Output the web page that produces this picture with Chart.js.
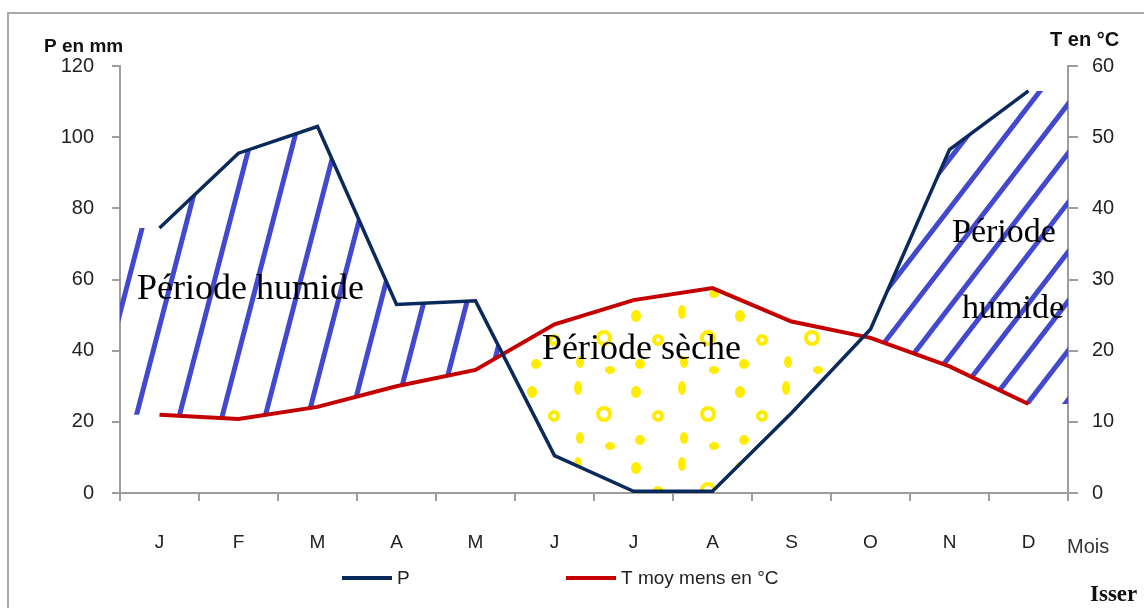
<!DOCTYPE html>
<html><head><meta charset="utf-8">
<script src="https://cdn.jsdelivr.net/npm/chart.js@4.4.1/dist/chart.umd.min.js"></script>
<style>html,body{margin:0;padding:0;background:#fff;}#wrap{width:1144px;height:608px;}</style>
</head><body><div id="wrap"><canvas id="c" width="1144" height="608"></canvas></div>
<script>
const months = ['J','F','M','A','M','J','J','A','S','O','N','D'];
const precipitation = [74.5, 95.5, 103, 53, 54, 10.5, 0.5, 0.5, 22.5, 46, 96.5, 113];
const temperature = [11, 10.4, 12.1, 15, 17.3, 23.7, 27.1, 28.8, 24.1, 21.8, 17.8, 12.5];
const pTicks = [0, 20, 40, 60, 80, 100, 120];
const tTicks = [0, 10, 20, 30, 40, 50, 60];
const seriesNames = ['P', 'T moy mens en °C'];
const seriesColors = ['#0b2a5c', '#c40000'];

const AXIS = '#9d9d9d';
const SANS = "'Liberation Sans', Arial, sans-serif";
const SERIF = "'Liberation Serif', 'Times New Roman', serif";

function regionPath(ctx, a, pts, edgeY) {
  ctx.moveTo(a.left, edgeY);
  ctx.lineTo(a.left, pts[0].y);
  pts.forEach(p => ctx.lineTo(p.x, p.y));
  ctx.lineTo(a.right, pts[pts.length - 1].y);
  ctx.lineTo(a.right, edgeY);
  ctx.closePath();
}
function hatch(ctx, a, ax, ay, k, gap) {
  ctx.beginPath();
  const start = ax - Math.ceil((ax - a.left + k * a.height + gap) / gap) * gap;
  for (let x = start; x < a.right + k * a.height + gap; x += gap) {
    const xb = x + k * (ay - a.bottom), xt = x + k * (ay - a.top);
    ctx.moveTo(xb, a.bottom); ctx.lineTo(xt, a.top);
  }
  ctx.stroke();
}
function dotPattern(ctx) {
  const c = document.createElement('canvas');
  c.width = 104; c.height = 76;
  const g = c.getContext('2d');
  g.fillStyle = '#ffec00'; g.strokeStyle = '#ffec00';
  const dots = [[12,12,5,6,0],[58,8,4,7,0],[34,36,4,4,1],[84,34,6,6,1],[16,60,5,5,0],[60,58,4,6,0],[90,66,5,4,0]];
  dots.forEach(d => {
    g.beginPath(); g.ellipse(d[0], d[1], d[2], d[3], 0, 0, Math.PI * 2);
    if (d[4]) { g.lineWidth = 4; g.stroke(); } else g.fill();
  });
  return ctx.createPattern(c, 'repeat');
}

const zonesPlugin = {
  id: 'zones',
  beforeDatasetsDraw(chart) {
    const ctx = chart.ctx, a = chart.chartArea;
    const P = chart.getDatasetMeta(0).data, T = chart.getDatasetMeta(1).data;
    let first = -1, last = -1;
    for (let i = 0; i < P.length; i++) if (P[i].y > T[i].y) { if (first < 0) first = i; last = i; }
    const splitX = first >= 0 ? (P[first].x + P[last].x) / 2 : a.right;
    ctx.save();
    ctx.beginPath(); regionPath(ctx, a, P, a.bottom); ctx.clip();
    ctx.beginPath(); regionPath(ctx, a, T, a.top); ctx.clip();
    ctx.strokeStyle = '#4349cf'; ctx.lineWidth = 5; ctx.lineCap = 'round';
    ctx.save(); ctx.beginPath(); ctx.rect(a.left, a.top, splitX - a.left, a.height); ctx.clip();
    hatch(ctx, a, a.left + 102, a.bottom - 76, 0.26, 43);
    ctx.restore();
    ctx.save(); ctx.beginPath(); ctx.rect(splitX, a.top, a.right - splitX, a.height); ctx.clip();
    hatch(ctx, a, a.right - 184, a.bottom - 150, 0.77, 38);
    ctx.restore();
    ctx.restore();
    ctx.save();
    ctx.beginPath(); regionPath(ctx, a, P, a.top); ctx.clip();
    ctx.beginPath(); regionPath(ctx, a, T, a.bottom); ctx.clip();
    ctx.fillStyle = dotPattern(ctx);
    ctx.fillRect(a.left, a.top, a.width, a.height);
    ctx.restore();
  },
  afterDraw(chart) {
    const ctx = chart.ctx;
    ctx.save();
    ctx.strokeStyle = '#a8a8a8'; ctx.lineWidth = 2;
    ctx.beginPath(); ctx.moveTo(8, 608); ctx.lineTo(8, 13); ctx.lineTo(1144, 13); ctx.stroke();
    ctx.fillStyle = '#000'; ctx.textBaseline = 'alphabetic'; ctx.textAlign = 'left';
    ctx.font = '36px ' + SERIF;
    ctx.fillText('Période humide', 137, 299);
    ctx.fillText('Période sèche', 542, 359);
    ctx.font = '34px ' + SERIF;
    ctx.fillText('Période', 952, 242);
    ctx.fillText('humide', 962, 318);
    ctx.fillStyle = '#111';
    ctx.font = 'bold 19px ' + SANS;
    ctx.fillText('P en mm', 44, 52);
    ctx.font = 'bold 20px ' + SANS;
    ctx.fillText('T en °C', 1050, 46);
    ctx.fillStyle = '#333';
    ctx.font = '20px ' + SANS;
    ctx.textBaseline = 'middle';
    ctx.fillText('Mois', 1067, 547);
    ctx.fillStyle = '#111';
    ctx.textBaseline = 'alphabetic';
    ctx.font = 'bold 23px ' + SERIF;
    ctx.fillText('Isser', 1090, 601);
    const legendX = [342, 566];
    ctx.font = '19px ' + SANS;
    ctx.textBaseline = 'middle';
    chart.data.datasets.forEach((ds, i) => {
      const x = legendX[i], y = 578;
      ctx.strokeStyle = ds.borderColor; ctx.lineWidth = 4;
      ctx.beginPath(); ctx.moveTo(x, y); ctx.lineTo(x + 50, y); ctx.stroke();
      ctx.fillStyle = '#222';
      ctx.fillText(ds.label, x + 55, y + 1);
    });
    ctx.restore();
  }
};

new Chart(document.getElementById('c'), {
  type: 'line',
  data: {
    labels: months,
    datasets: [
      { label: seriesNames[0], data: precipitation, yAxisID: 'y', borderColor: seriesColors[0], borderWidth: 3.5, pointRadius: 0, tension: 0, fill: false },
      { label: seriesNames[1], data: temperature, yAxisID: 'y1', borderColor: seriesColors[1], borderWidth: 4, pointRadius: 0, tension: 0, fill: false }
    ]
  },
  options: {
    responsive: false,
    animation: false,
    devicePixelRatio: 1,
    layout: { padding: { top: 66, left: 10, right: 0, bottom: 0 } },
    plugins: { legend: { display: false }, tooltip: { enabled: false } },
    scales: {
      x: {
        offset: true,
        grid: { offset: true, drawOnChartArea: false, drawTicks: true, tickLength: 8, color: AXIS, lineWidth: 2 },
        border: { color: AXIS, width: 2 },
        ticks: { color: '#222', font: { family: SANS, size: 19 }, padding: 30, maxRotation: 0, autoSkip: false },
        afterFit: s => { s.height = 115; }
      },
      y: {
        position: 'left',
        min: pTicks[0], max: pTicks[pTicks.length - 1],
        ticks: { stepSize: pTicks[1] - pTicks[0], color: '#222', font: { family: SANS, size: 20 }, padding: 18 },
        grid: { drawOnChartArea: false, tickLength: 8, color: AXIS, lineWidth: 2 },
        border: { color: AXIS, width: 2 },
        afterFit: s => { s.width = 110; }
      },
      y1: {
        position: 'right',
        min: tTicks[0], max: tTicks[tTicks.length - 1],
        ticks: { stepSize: tTicks[1] - tTicks[0], color: '#222', font: { family: SANS, size: 20 }, padding: 14 },
        grid: { drawOnChartArea: false, tickLength: 10, color: AXIS, lineWidth: 2 },
        border: { color: AXIS, width: 2 },
        afterFit: s => { s.width = 76; }
      }
    }
  },
  plugins: [zonesPlugin]
});
</script></body></html>
